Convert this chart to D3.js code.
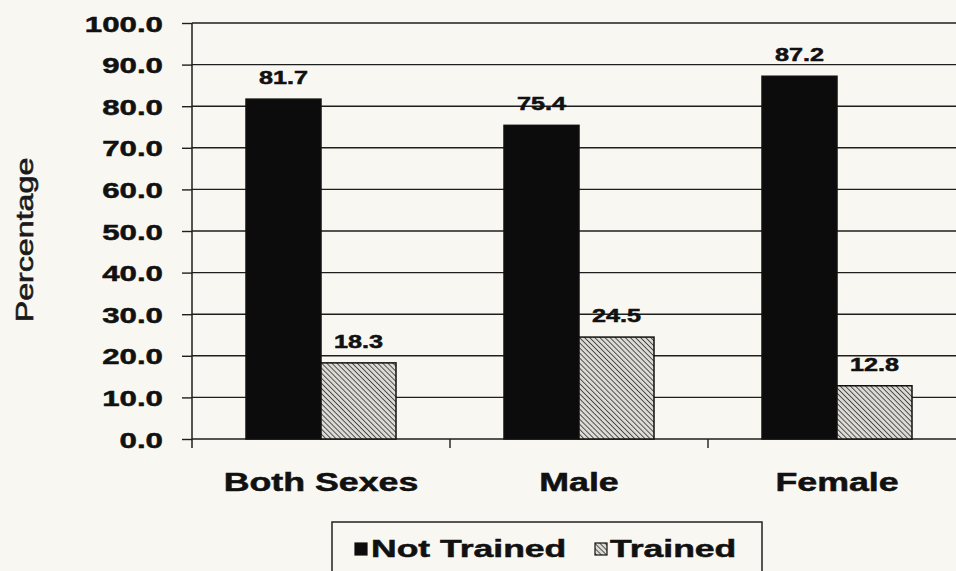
<!DOCTYPE html>
<html>
<head>
<meta charset="utf-8">
<script src="https://cdn.jsdelivr.net/npm/d3@7"></script>
<style>
  html, body { margin: 0; padding: 0; background: #f8f7f1; }
  svg { display: block; }
</style>
</head>
<body>
<div id="chart"></div>
<script>

// chart values
var categories = ["Both Sexes", "Male", "Female"];
var seriesNames = ["Not Trained", "Trained"];
var notTrained = [81.7, 75.4, 87.2];
var trained = [18.3, 24.5, 12.8];
var yTicks = [0, 10, 20, 30, 40, 50, 60, 70, 80, 90, 100];


var width = 956, height = 571;
var stretch = 1.43;   // the printed type is wide, so text gets pulled sideways

var svg = d3.select("#chart").append("svg")
	.attr("width", width)
	.attr("height", height)
	.style("font-family", "Arial, 'Liberation Sans', sans-serif");

svg.append("rect")
	.attr("width", width)
	.attr("height", height)
	.attr("fill", "#f8f7f1");

var defs = svg.append("defs");

// hatch for the trained bars
var hatch = defs.append("pattern")
	.attr("id", "hatch")
	.attr("patternUnits", "userSpaceOnUse")
	.attr("width", 3.6)
	.attr("height", 3.6)
	.attr("patternTransform", "rotate(-45)");
hatch.append("rect")
	.attr("width", 3.6)
	.attr("height", 3.6)
	.attr("fill", "#dcdad4");
hatch.append("line")
	.attr("x1", 0).attr("y1", 0)
	.attr("x2", 0).attr("y2", 3.6)
	.attr("stroke", "#3a3a3a")
	.attr("stroke-width", 1.7);

var plotLeft = 192, plotRight = 966;
var plotTop = 23, plotBottom = 439;

var x = d3.scaleBand()
	.domain(categories)
	.range([plotLeft, plotRight])
	.paddingInner(0)
	.paddingOuter(0);

var x1 = d3.scaleBand()
	.domain(seriesNames)
	.range([0, x.bandwidth()])
	.paddingOuter(0.72)
	.paddingInner(0);

var y = d3.scaleLinear()
	.domain([0, 100])
	.range([plotBottom, plotTop]);


function wideText(sel, px, py, sx)
{
	sel.attr("x", 0)
		.attr("y", 0)
		.attr("dy", null)
		.attr("stroke", "#111")
		.attr("stroke-width", 0.5)
		.attr("transform", function(d, i)
		{
			var tx = typeof px == "function" ? px(d, i) : px;
			var ty = typeof py == "function" ? py(d, i) : py;
			return "translate(" + tx + "," + ty + ") scale(" + sx + ",1)";
		});
	return sel;
}

// gridlines
var grid = svg.append("g");
grid.selectAll("line")
	.data(yTicks.filter(function(d) { return d > 0; }))
	.enter().append("line")
	.attr("x1", plotLeft)
	.attr("x2", width)
	.attr("y1", function(d) { return y(d); })
	.attr("y2", function(d) { return y(d); })
	.attr("stroke", "#1e1e1e")
	.attr("stroke-width", 1.4);

// y axis
var yAxis = d3.axisLeft(y)
	.tickValues(yTicks)
	.tickSize(10)
	.tickPadding(18)
	.tickFormat(d3.format(".1f"));

var yG = svg.append("g")
	.attr("transform", "translate(" + plotLeft + ",0)")
	.call(yAxis);
yG.select(".domain")
	.attr("stroke", "#1e1e1e")
	.attr("stroke-width", 1.5)
	.attr("d", "M0," + plotTop + "V" + (plotBottom + 9));
yG.selectAll(".tick line")
	.attr("stroke", "#1e1e1e")
	.attr("stroke-width", 1.4);
wideText(yG.selectAll(".tick text"), -29, 8, 1.42)
	.attr("fill", "#111")
	.style("font-size", "22px")
	.style("font-weight", "bold");

svg.append("text")
	.attr("transform", "translate(33,240) rotate(-90) scale(1.4,1)")
	.attr("text-anchor", "middle")
	.attr("fill", "#1a1a1a")
	.attr("stroke", "#1a1a1a")
	.attr("stroke-width", 0.6)
	.style("font-size", "23px")
	.text("Percentage");

// x axis baseline and category ticks
svg.append("line")
	.attr("x1", plotLeft)
	.attr("x2", width)
	.attr("y1", plotBottom)
	.attr("y2", plotBottom)
	.attr("stroke", "#1e1e1e")
	.attr("stroke-width", 1.5);

svg.append("g").selectAll("line")
	.data(categories.slice(1))
	.enter().append("line")
	.attr("x1", function(d) { return x(d); })
	.attr("x2", function(d) { return x(d); })
	.attr("y1", plotBottom)
	.attr("y2", plotBottom + 9)
	.attr("stroke", "#1e1e1e")
	.attr("stroke-width", 1.4);

var catText = svg.append("g").selectAll("text")
	.data(categories)
	.enter().append("text")
	.attr("text-anchor", "middle")
	.attr("fill", "#111")
	.style("font-size", "25px")
	.style("font-weight", "bold")
	.text(function(d) { return d; });
wideText(catText, function(d) { return x(d) + x.bandwidth() / 2; }, 491, stretch);

// bars
var rows = categories.map(function(c, i)
{
	return [
		{cat: c, series: seriesNames[0], value: notTrained[i]},
		{cat: c, series: seriesNames[1], value: trained[i]}
	];
});

var groups = svg.append("g").selectAll("g")
	.data(rows)
	.enter().append("g")
	.attr("transform", function(d) { return "translate(" + x(d[0].cat) + ",0)"; });

groups.selectAll("rect")
	.data(function(d) { return d; })
	.enter().append("rect")
	.attr("x", function(d) { return x1(d.series); })
	.attr("width", x1.bandwidth())
	.attr("y", function(d) { return y(d.value); })
	.attr("height", function(d) { return plotBottom - y(d.value); })
	.attr("fill", function(d) { return d.series == "Trained" ? "url(#hatch)" : "#0c0c0c"; })
	.attr("stroke", "#111")
	.attr("stroke-width", 1.5);

var valText = groups.selectAll("text")
	.data(function(d) { return d; })
	.enter().append("text")
	.attr("text-anchor", "middle")
	.attr("fill", "#111")
	.style("font-size", "18px")
	.style("font-weight", "bold")
	.text(function(d) { return d3.format(".1f")(d.value); });
wideText(valText,
	function(d) { return x1(d.series) + x1.bandwidth() / 2; },
	function(d) { return y(d.value) - 15; },
	1.4);

// legend
var legend = svg.append("g");
legend.append("rect")
	.attr("x", 332)
	.attr("y", 522)
	.attr("width", 430)
	.attr("height", 60)
	.attr("fill", "#f8f7f1")
	.attr("stroke", "#222")
	.attr("stroke-width", 1.5);

var legendItems = [
	{name: seriesNames[0], box: 355, text: 371, fill: "#0c0c0c"},
	{name: seriesNames[1], box: 595, text: 610, fill: "url(#hatch)"}
];

legend.selectAll("rect.key")
	.data(legendItems)
	.enter().append("rect")
	.attr("class", "key")
	.attr("x", function(d) { return d.box; })
	.attr("y", 543)
	.attr("width", 12)
	.attr("height", 12)
	.attr("fill", function(d) { return d.fill; })
	.attr("stroke", "#111")
	.attr("stroke-width", 1.2);

var legText = legend.selectAll("text")
	.data(legendItems)
	.enter().append("text")
	.attr("fill", "#111")
	.style("font-size", "24px")
	.style("font-weight", "bold")
	.text(function(d) { return d.name; });
wideText(legText, function(d) { return d.text; }, 557, 1.48);

</script>
</body>
</html>
